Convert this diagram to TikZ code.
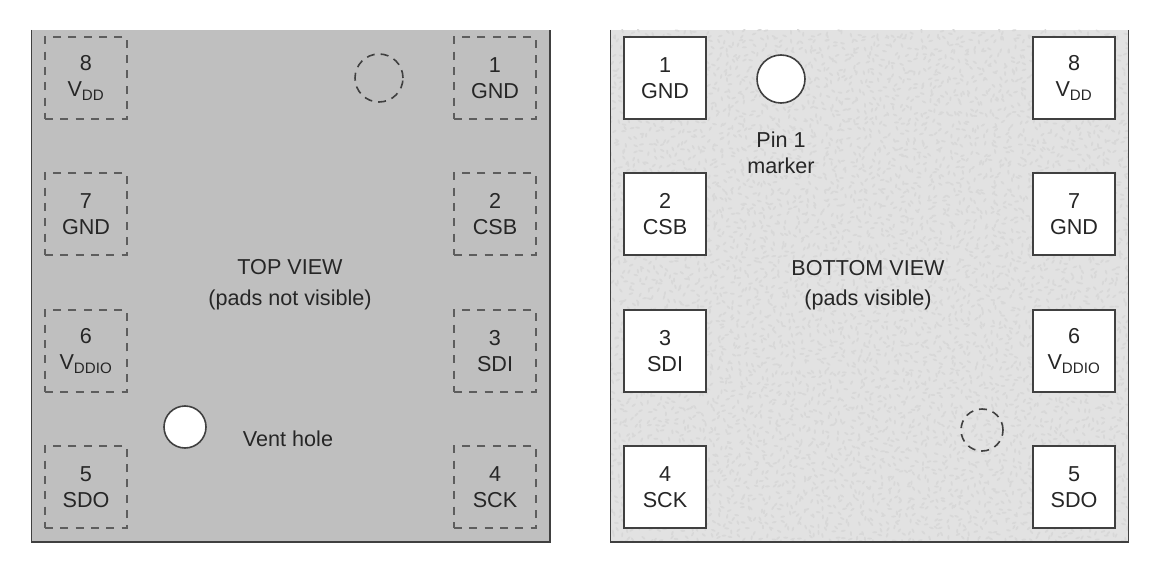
\documentclass[tikz,border=0pt]{standalone}
\usepackage{fontspec}
\setmainfont{Liberation Sans}
\usepackage{xcolor}
\definecolor{topgray}{HTML}{BFBFBF}
\definecolor{botgray}{HTML}{E2E2E2}
\definecolor{speckgray}{HTML}{D8D8D8}
\definecolor{edgegray}{HTML}{404040}
\definecolor{textgray}{HTML}{262626}
\newcommand{\vdd}{V\textsubscript{DD}}
\newcommand{\vddio}{V\textsubscript{DDIO}}
\tikzset{
	padbox/.style={minimum size=82*0.75pt,inner sep=0pt,outer sep=0pt,line width=1.2pt,align=center,text=textgray},
	padhidden/.style={padbox,draw=edgegray!85,dash pattern=on 6pt off 5.5pt},
	padshown/.style={padbox,draw=edgegray,fill=white},
	holeopen/.style={circle,inner sep=0pt,outer sep=0pt,draw=edgegray,line width=1.2pt,fill=white},
	holehidden/.style={circle,inner sep=0pt,outer sep=0pt,draw=edgegray,line width=1.2pt,dash pattern=on 6pt off 4.5pt},
	caption/.style={align=center,text=textgray,inner sep=0pt},
	panel/.style={draw=edgegray,line width=1.4pt}
}
\begin{document}
\begin{tikzpicture}[x=0.75pt,y=-0.75pt,font=\fontsize{16.2}{19.5}\selectfont]
	\useasboundingbox (0,0) rectangle (1160,574);

	% the two packages, top edge left open
	\fill[topgray] (31.5,30) rectangle (550,542);
	\draw[panel] (31.5,30) -- (31.5,542) -- (550,542) -- (550,30);

	\fill[botgray] (610.5,30) rectangle (1128.5,542);
	\begin{scope}
		\clip (610.5,30) rectangle (1128.5,542);
		\pgfmathsetseed{11}
		\foreach \gx in {610,617,...,1130} {
			\foreach \gy in {30,37,...,542} {
				\pgfmathsetmacro{\sx}{\gx+rnd*7}
				\pgfmathsetmacro{\sy}{\gy+rnd*7}
				\pgfmathsetmacro{\sa}{rnd*180}
				\fill[speckgray,rotate around={\sa:(\sx,\sy)}] (\sx,\sy) ellipse (2.4 and 1);
			}
		}
	\end{scope}
	\draw[panel] (610.5,30) -- (610.5,542) -- (1128.5,542) -- (1128.5,30);

	% top view pads
	\foreach \nm/\px/\py/\lab in {1/495/78/GND,2/495/214/CSB,3/495/351/SDI,4/495/487/SCK,
			5/86/487/SDO,6/86/351/\vddio,7/86/214/GND,8/86/78/\vdd} {
		\node[padhidden] (tp\nm) at (\px,\py) {\nm\\\lab};
	}

	% bottom view pads
	\foreach \nm/\px/\py/\lab in {1/665/78/GND,2/665/214/CSB,3/665/351/SDI,4/665/487/SCK,
			5/1074/487/SDO,6/1074/351/\vddio,7/1074/214/GND,8/1074/78/\vdd} {
		\node[padshown] (bp\nm) at (\px,\py) {\nm\\\lab};
	}

	\node[holehidden,minimum size=48*0.75pt] (markhidden) at (379,78) {};
	\node[holeopen,minimum size=42*0.75pt] (vent) at (185,427) {};
	\node[holeopen,minimum size=48*0.75pt] (marker) at (781,79) {};
	\node[holehidden,minimum size=42*0.75pt] (venthidden) at (982,430) {};

	\node[caption] (toplabel) at (290,284.5) {TOP VIEW\\[3.5pt](pads not visible)};
	\node[caption] (botlabel) at (868,285) {BOTTOM VIEW\\[3pt](pads visible)};
	\node[caption] (ventlabel) at (288,439) {Vent hole};
	\node[caption] (markerlabel) at (781,153) {Pin 1\\marker};
\end{tikzpicture}
\end{document}
